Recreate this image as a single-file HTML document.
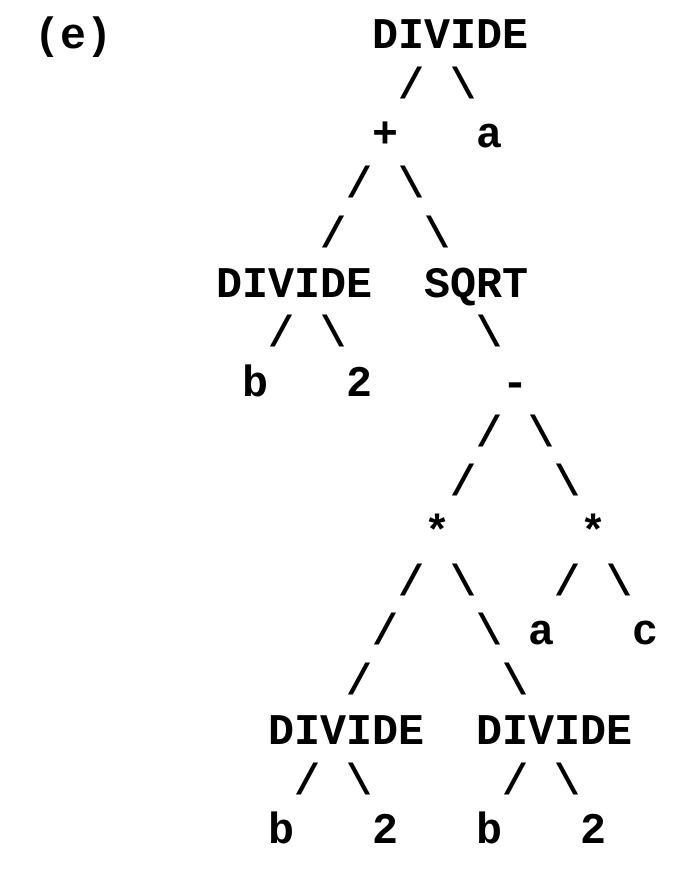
<!DOCTYPE html>
<html><head><meta charset="utf-8"><style>
html,body{margin:0;padding:0;background:#fff;width:678px;height:889px;overflow:hidden}
pre{position:absolute;left:8px;top:13px;margin:0;font-family:"Liberation Mono","DejaVu Sans Mono",monospace;font-weight:bold;font-size:43.33px;line-height:49.7px;color:#000}
</style></head><body>
<pre> (e)          DIVIDE
               / \
              +   a
             / \
            /   \
        DIVIDE  SQRT
          / \     \
         b   2     -
                  / \
                 /   \
                *     *
               / \   / \
              /   \ a   c
             /     \
          DIVIDE  DIVIDE
           / \     / \
          b   2   b   2</pre>
</body></html>
